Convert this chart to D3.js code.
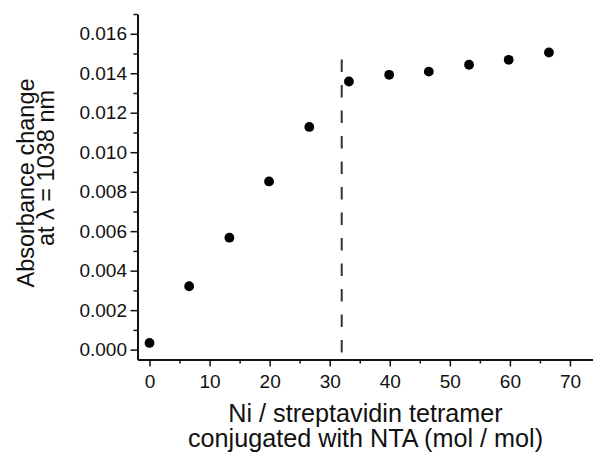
<!DOCTYPE html>
<html>
<head>
<meta charset="utf-8">
<script src="https://cdn.jsdelivr.net/npm/d3@7"></script>
<style>
  body { margin: 0; background: #fff; }
  svg { display: block; font-family: "Liberation Sans", Arial, sans-serif; }
</style>
</head>
<body>
<svg id="chart" width="593" height="457"></svg>
<script>
// ratio of Ni per streptavidin tetramer vs absorbance change
const ratios = [0, 6.6, 13.3, 19.9, 26.6, 33.2, 39.9, 46.5, 53.2, 59.8, 66.5]
const absorbance = [0.00034, 0.00321, 0.00567, 0.00852, 0.01128, 0.01358, 0.01392, 0.01408, 0.01443, 0.01468, 0.01505]

const xTicks = [0, 10, 20, 30, 40, 50, 60, 70]
const xMinorTicks = [5, 15, 25, 35, 45, 55, 65, 75]
const yTicks = [0, 0.002, 0.004, 0.006, 0.008, 0.010, 0.012, 0.014, 0.016]
const yMinorTicks = [0.001, 0.003, 0.005, 0.007, 0.009, 0.011, 0.013, 0.015, 0.017]

const saturationX = 32
const saturationTop = 0.0147

const xTitle = ['Ni / streptavidin tetramer', 'conjugated with NTA (mol / mol)']
const yTitle = ['Absorbance change', 'at \u03bb = 1038 nm']

const svg = d3.select('#chart')

const x = d3.scaleLinear().domain([-2, 75]).range([137.5, 600])
const y = d3.scaleLinear().domain([-0.0005, 0.017]).range([359.5, 14])

const ink = '#111'

// minor ticks first
svg.append('g')
  .attr('transform', `translate(0,${y.range()[0]})`)
  .call(d3.axisBottom(x).tickValues(xMinorTicks).tickSize(4).tickSizeOuter(0).tickFormat(''))
  .call(g => g.select('.domain').remove())
  .call(g => g.selectAll('line').attr('stroke', ink).attr('stroke-width', 1.5))

svg.append('g')
  .attr('transform', `translate(${x.range()[0]},0)`)
  .call(d3.axisLeft(y).tickValues(yMinorTicks).tickSize(4).tickSizeOuter(0).tickFormat(''))
  .call(g => g.select('.domain').remove())
  .call(g => g.selectAll('line').attr('stroke', ink).attr('stroke-width', 1.5))

const xAxis = svg.append('g')
  .attr('transform', `translate(0,${y.range()[0]})`)
  .call(d3.axisBottom(x).tickValues(xTicks).tickSize(7).tickSizeOuter(0).tickPadding(8.5).tickFormat(d3.format('d')))

const yAxis = svg.append('g')
  .attr('transform', `translate(${x.range()[0]},0)`)
  .call(d3.axisLeft(y).tickValues(yTicks).tickSize(7).tickSizeOuter(0).tickPadding(3.5).tickFormat(d3.format('.3f')))

;[xAxis, yAxis].forEach(g => {
  g.select('.domain').attr('stroke', ink).attr('stroke-width', 2)
  g.selectAll('.tick line').attr('stroke', ink).attr('stroke-width', 1.5)
  g.selectAll('.tick text')
    .attr('fill', ink)
    .attr('font-family', '"Liberation Sans", Arial, sans-serif')
    .attr('font-size', 19)
})

// saturation marker
svg.append('line')
  .attr('x1', x(saturationX))
  .attr('x2', x(saturationX))
  .attr('y1', y(saturationTop))
  .attr('y2', y.range()[0])
  .attr('stroke', '#333')
  .attr('stroke-width', 2)
  .attr('stroke-dasharray', '12.5,13')

svg.append('g')
  .selectAll('circle')
  .data(ratios)
  .enter().append('circle')
  .attr('cx', (d) => x(d))
  .attr('cy', (d, i) => y(absorbance[i]))
  .attr('r', 4.9)
  .attr('fill', '#000')

// axis titles
svg.append('g')
  .selectAll('text')
  .data(xTitle)
  .enter().append('text')
  .attr('x', 365.5)
  .attr('y', (d, i) => 421.7 + i * 25.3)
  .attr('text-anchor', 'middle')
  .attr('font-size', 25.2)
  .attr('fill', ink)
  .text((d) => d)

const yTitlePos = [[34.3, 183], [54, 168]]
svg.append('g')
  .selectAll('text')
  .data(yTitle)
  .enter().append('text')
  .attr('transform', (d, i) => `translate(${yTitlePos[i][0]},${yTitlePos[i][1]}) rotate(-90)`)
  .attr('text-anchor', 'middle')
  .attr('font-size', 23.5)
  .attr('fill', ink)
  .text((d) => d)
</script>
</body>
</html>
